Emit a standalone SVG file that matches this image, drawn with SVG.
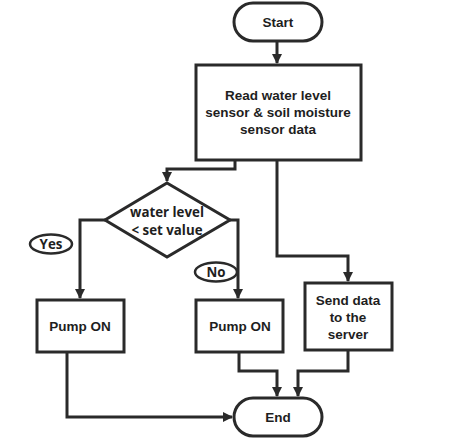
<svg xmlns="http://www.w3.org/2000/svg" width="449" height="440" viewBox="0 0 449 440">
<style>
.box{fill:#fff;stroke:#2a2a2a;stroke-width:3}
.lbl{fill:#fff;stroke:#2a2a2a;stroke-width:2.5}
.t{font-family:"Liberation Sans",Arial,sans-serif;font-weight:bold;font-size:13.5px;fill:#1e1e1e;text-anchor:middle}
.c{font-family:"Open Sans","Liberation Sans",sans-serif;font-weight:bold;font-size:13.3px;fill:#1e1e1e;text-anchor:middle}
.ln{fill:none;stroke:#2a2a2a;stroke-width:3}
</style>
<defs>
<marker id="ah" markerWidth="10" markerHeight="10" refX="9" refY="5" orient="auto" markerUnits="userSpaceOnUse">
<path d="M0,0 L10,5 L0,10 Z" fill="#2a2a2a"/>
</marker>
</defs>
<g id="connectors">
<path class="ln" d="M277,42 V63" marker-end="url(#ah)"/>
<path class="ln" d="M235,160 V169 H167 V181" marker-end="url(#ah)"/>
<path class="ln" d="M105,220 H80 V298" marker-end="url(#ah)"/>
<path class="ln" d="M230,220 H238 V298" marker-end="url(#ah)"/>
<path class="ln" d="M277,160 V256 H348 V281" marker-end="url(#ah)"/>
<path class="ln" d="M239,352 V371 H277 V396" marker-end="url(#ah)"/>
<path class="ln" d="M348,350 V371 H298 V396" marker-end="url(#ah)"/>
<path class="ln" d="M67,352 V417 H232" marker-end="url(#ah)"/>
</g>
<g id="start">
<rect class="box" x="234" y="3" width="88" height="38" rx="19"/>
<text class="t" x="278" y="27">Start</text>
</g>
<g id="read">
<rect class="box" x="196" y="65" width="165" height="95"/>
<text class="t" x="278" y="100">Read water level</text>
<text class="t" x="278" y="117">sensor &amp; soil moisture</text>
<text class="t" x="278" y="134">sensor data</text>
</g>
<g id="decision">
<polygon class="box" points="167,183 230,220 167,257 105,220"/>
<text class="c" x="167" y="217">water level</text>
<text class="c" x="167" y="235">&lt; set value</text>
</g>
<g id="yes">
<ellipse class="lbl" cx="51" cy="244" rx="21" ry="9.5"/>
<text class="c" x="51" y="249">Yes</text>
</g>
<g id="no">
<ellipse class="lbl" cx="216" cy="272" rx="21" ry="9.5"/>
<text class="c" x="216" y="277">No</text>
</g>
<g id="pump1">
<rect class="box" x="37" y="300" width="87" height="52"/>
<text class="t" x="80" y="331">Pump ON</text>
</g>
<g id="pump2">
<rect class="box" x="196" y="300" width="87" height="52"/>
<text class="t" x="240" y="331">Pump ON</text>
</g>
<g id="send">
<rect class="box" x="305" y="283" width="87" height="67"/>
<text class="t" x="348" y="305">Send data</text>
<text class="t" x="348" y="322">to the</text>
<text class="t" x="348" y="339">server</text>
</g>
<g id="end">
<rect class="box" x="234" y="398" width="88" height="38" rx="19"/>
<text class="t" x="278" y="422">End</text>
</g>
</svg>
